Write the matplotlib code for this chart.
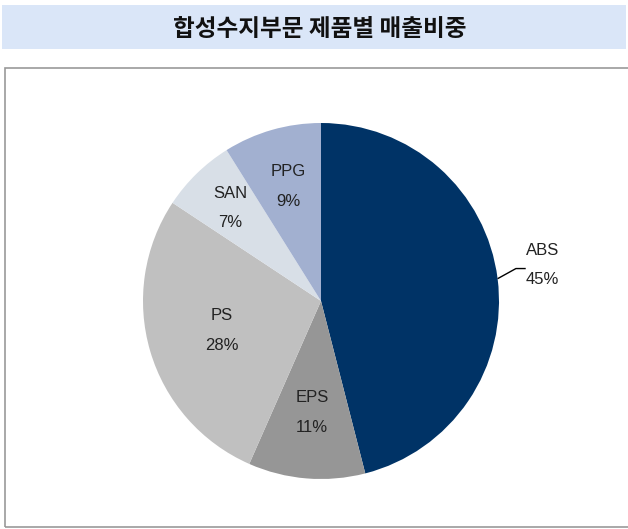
import numpy as np
import matplotlib
matplotlib.use("Agg")
import matplotlib.pyplot as plt
from matplotlib.patches import Rectangle

title = "합성수지부문 제품별 매출비중"
categories = ["ABS", "EPS", "PS", "SAN", "PPG"]
shares = [46.0, 10.6, 27.7, 6.8, 8.9]
pct_labels = ["45%", "11%", "28%", "7%", "9%"]
colors = ["#003366", "#969696", "#c0c0c0", "#d8dfe7", "#a2b0d0"]
label_dist = [1.255, 0.63, 0.58, 0.73, 0.67]

W, H = 628, 529
fig = plt.figure(figsize=(W / 100, H / 100), dpi=100)
fig.patch.set_facecolor("white")

# title bar
fig.patches.append(Rectangle((2 / W, 1 - 49 / H), 624 / W, 44 / H, transform=fig.transFigure,
                             facecolor="#dae6f8", edgecolor="none", zorder=0))
fig.text(320 / W, 1 - 29 / H, title, ha="center", va="center", fontsize=17, fontweight="heavy",
         family=["Noto Sans CJK KR", "DejaVu Sans"], color="#111111")

# frame
fig.patches.append(Rectangle((4.5 / W, 1 - 527 / H), 640 / W, 459 / H, transform=fig.transFigure,
                             facecolor="none", edgecolor="#999999", linewidth=1.2, zorder=0))

# pie axes: center (321, 301), radius 178 px
cx, cy, r = 321, 301, 178
ax = fig.add_axes([(cx - r) / W, 1 - (cy + r) / H, 2 * r / W, 2 * r / H])
wedges, _ = ax.pie(shares, colors=colors, startangle=90, counterclock=False, radius=1,
                   wedgeprops=dict(linewidth=0))
ax.set_xlim(-1, 1)
ax.set_ylim(-1, 1)
ax.set_aspect("equal")
ax.axis("off")

fnt = ["Liberation Sans Narrow", "Liberation Sans", "DejaVu Sans"]
for w, cat, pl, d in zip(wedges, categories, pct_labels, label_dist):
    mid = (w.theta1 + w.theta2) / 2
    ang = np.deg2rad(mid)
    x, y = d * np.cos(ang), d * np.sin(ang)
    if d > 1:
        y += 0.045
    ax.text(x, y + 0.084, cat, ha="center", va="center", fontsize=12, family=fnt, color="#222222")
    ax.text(x, y - 0.084, pl, ha="center", va="center", fontsize=12, family=fnt, color="#222222")
    if d > 1:
        sx, sy = np.cos(ang), np.sin(ang)
        ax.plot([sx, x - 0.15, x - 0.095], [sy, y - 0.02, y - 0.02], color="black", lw=1,
                clip_on=False, solid_capstyle="butt")

fig.savefig("out.png", dpi=100)
